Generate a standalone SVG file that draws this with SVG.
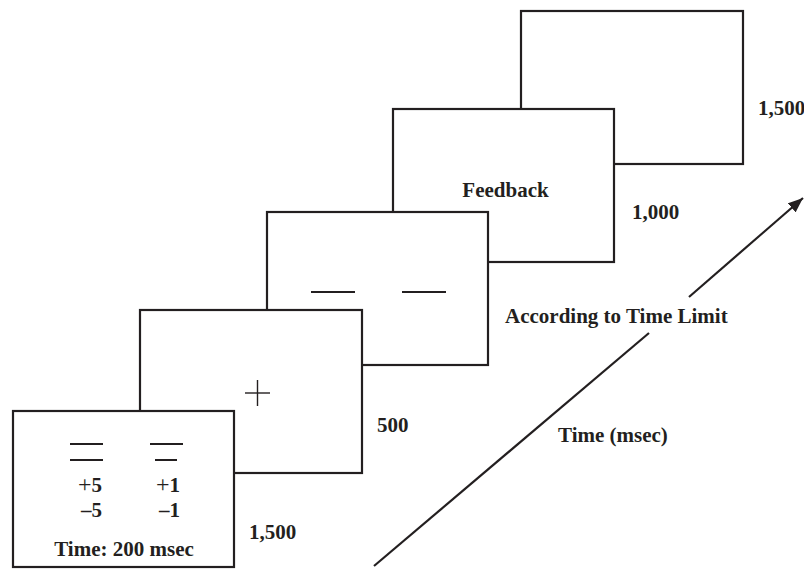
<svg xmlns="http://www.w3.org/2000/svg" width="804" height="569" viewBox="0 0 804 569">
  <style>
    .frame { fill: #ffffff; stroke: #231f20; stroke-width: 2.2; }
    .mark { stroke: #231f20; stroke-width: 2; fill: none; }
    .thin { stroke: #231f20; stroke-width: 1.4; fill: none; }
    .lbl { font-family: "Liberation Serif", "Times New Roman", serif; font-weight: bold; font-size: 21px; fill: #231f20; }
    .plus { font-weight: normal; font-size: 24px; }
    .axis { stroke: #231f20; stroke-width: 2.2; fill: none; }
  </style>
  <defs>
    <marker id="arrowhead" markerUnits="userSpaceOnUse" markerWidth="16" markerHeight="12" refX="15" refY="6" orient="auto">
      <path d="M0,0 L15,6 L0,12 z" fill="#231f20"/>
    </marker>
  </defs>
  <rect width="804" height="569" fill="#ffffff"/>

  <g id="screen5">
    <rect class="frame" x="521" y="11" width="222" height="153"/>
  </g>
  <g id="screen4">
    <rect class="frame" x="393" y="109" width="221" height="153"/>
    <text class="lbl" x="505.5" y="197" text-anchor="middle">Feedback</text>
  </g>
  <g id="screen3">
    <rect class="frame" x="267" y="212" width="221" height="153"/>
    <line class="mark" x1="311" y1="292" x2="355" y2="292"/>
    <line class="mark" x1="402" y1="292" x2="446" y2="292"/>
  </g>
  <g id="screen2">
    <rect class="frame" x="140" y="310" width="222" height="163"/>
    <line class="thin" x1="245" y1="393" x2="270" y2="393"/>
    <line class="thin" x1="257.5" y1="380" x2="257.5" y2="406"/>
  </g>
  <g id="screen1">
    <rect class="frame" x="13" y="411" width="221" height="156"/>
    <line class="mark" x1="70" y1="444" x2="103" y2="444"/>
    <line class="mark" x1="70" y1="460" x2="103" y2="460"/>
    <line class="mark" x1="150" y1="444" x2="183" y2="444"/>
    <line class="mark" x1="155" y1="460" x2="177" y2="460"/>
    <text class="lbl" x="102" y="492" text-anchor="end"><tspan class="plus">+</tspan>5</text>
    <text class="lbl" x="180" y="492" text-anchor="end"><tspan class="plus">+</tspan>1</text>
    <text class="lbl" x="102" y="517" text-anchor="end">–5</text>
    <text class="lbl" x="180" y="517" text-anchor="end">–1</text>
    <text class="lbl" x="124" y="556" text-anchor="middle">Time: 200 msec</text>
  </g>

  <g id="durations">
    <text class="lbl" x="758" y="115">1,500</text>
    <text class="lbl" x="632" y="219">1,000</text>
    <text class="lbl" x="377" y="432">500</text>
    <text class="lbl" x="249" y="539">1,500</text>
  </g>

  <g id="connectors">
    <line class="axis" x1="374" y1="566" x2="649" y2="333"/>
    <line class="axis" x1="689" y1="297" x2="803" y2="198" marker-end="url(#arrowhead)"/>
  </g>
  <g id="axis-labels">
    <text class="lbl" x="505" y="323">According to Time Limit</text>
    <text class="lbl" x="558" y="442">Time (msec)</text>
  </g>
</svg>
